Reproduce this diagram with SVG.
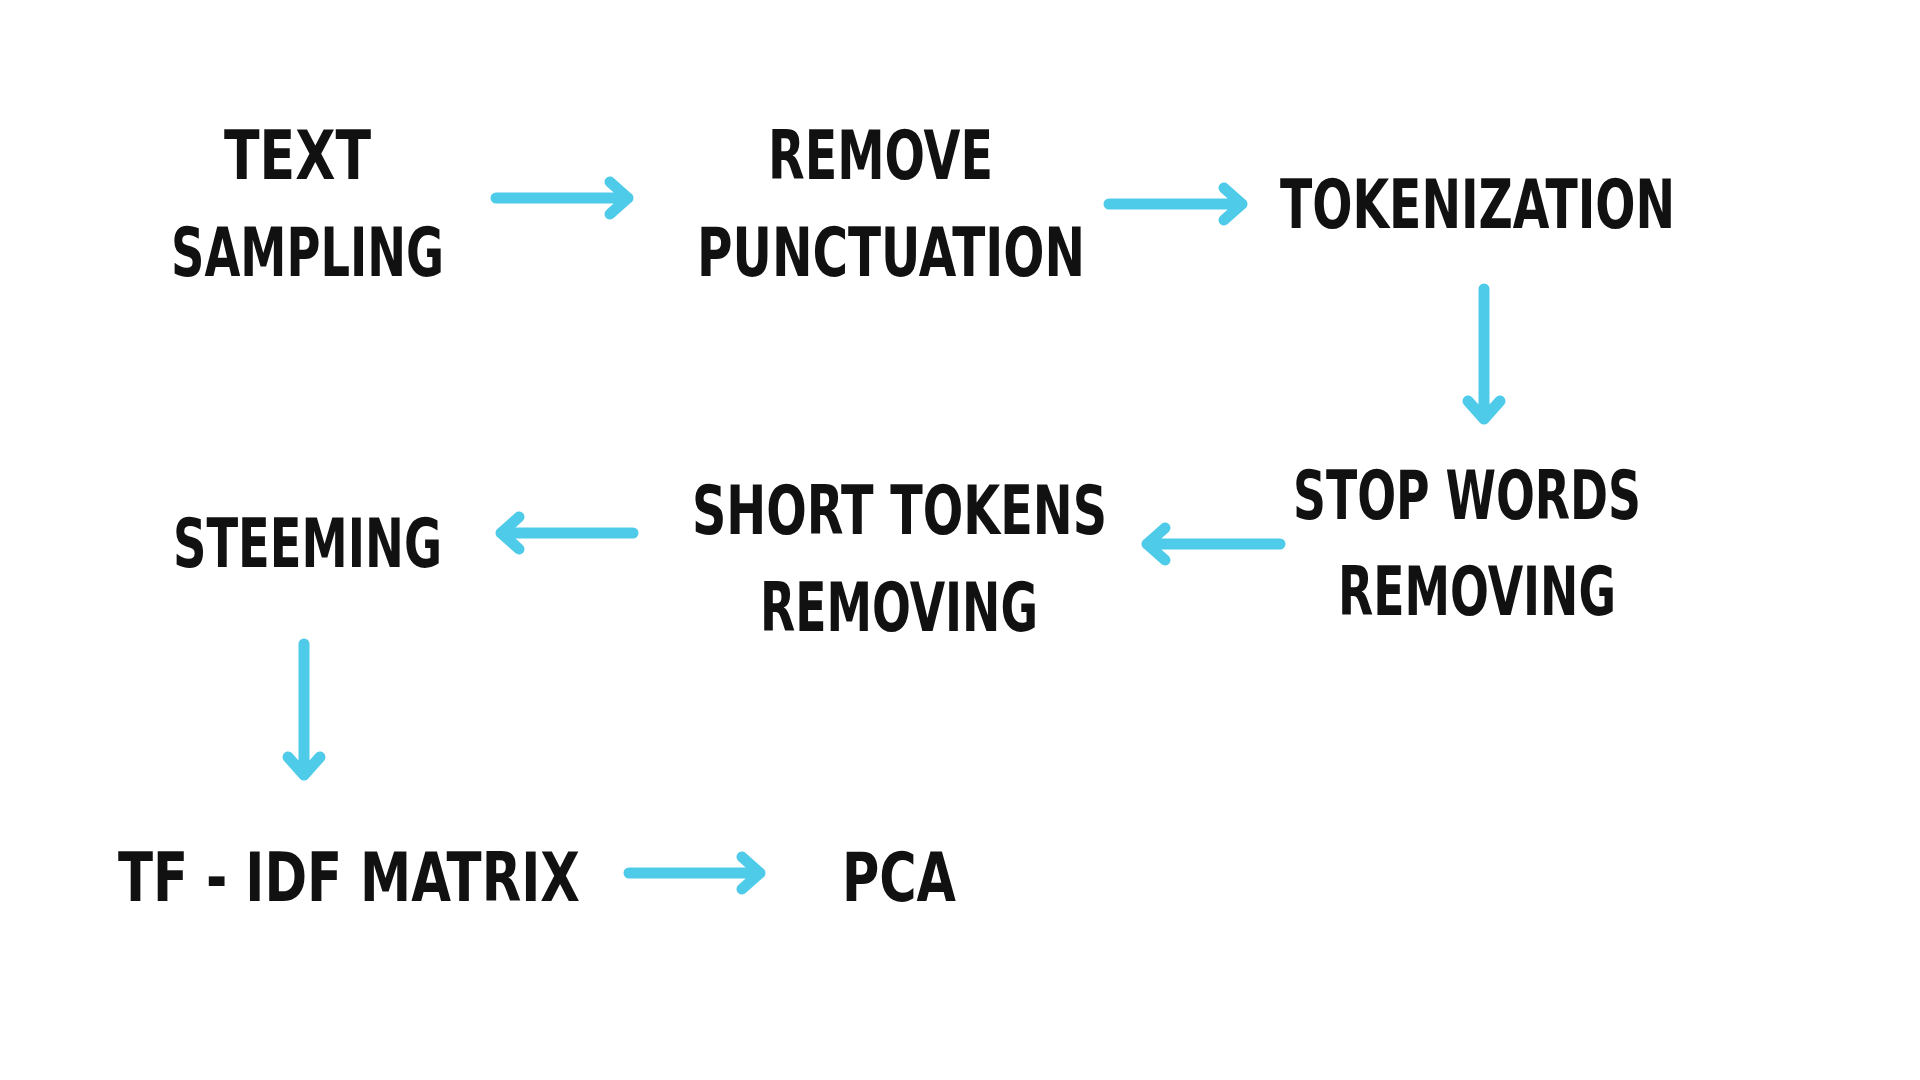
<svg xmlns="http://www.w3.org/2000/svg" width="1920" height="1080" viewBox="0 0 1920 1080">
<defs>
<style>
.t{font-family:"DejaVu Sans Condensed","DejaVu Sans","Liberation Sans",sans-serif;font-stretch:condensed;font-weight:bold;font-size:68px;fill:#111;}
.a{fill:none;stroke:#4dcbe9;stroke-width:11;stroke-linecap:round;stroke-linejoin:round;}
</style>
</defs>
<rect width="1920" height="1080" fill="#ffffff"/>
<g id="connectors">
<path class="a" d="M496 198 H628 M610 182 L628 198 L610 214"/>
<path class="a" d="M1109 204 H1242 M1224 188 L1242 204 L1224 220"/>
<path class="a" d="M1484 289 V419 M1468 401 L1484 419 L1500 401"/>
<path class="a" d="M1280 544 H1147 M1165 528 L1147 544 L1165 560"/>
<path class="a" d="M633 533 H501 M519 517 L501 533 L519 549"/>
<path class="a" d="M304 644 V775 M288 757 L304 775 L320 757"/>
<path class="a" d="M629 873 H760 M742 857 L760 873 L742 889"/>
</g>
<g id="text-sampling">
<text class="t" x="224" y="179" textLength="147" lengthAdjust="spacingAndGlyphs">TEXT</text>
<text class="t" x="171" y="276" textLength="273" lengthAdjust="spacingAndGlyphs">SAMPLING</text>
</g>
<g id="remove-punctuation">
<text class="t" x="768" y="179" textLength="225" lengthAdjust="spacingAndGlyphs">REMOVE</text>
<text class="t" x="697" y="276" textLength="388" lengthAdjust="spacingAndGlyphs">PUNCTUATION</text>
</g>
<g id="tokenization">
<text class="t" x="1280" y="228" textLength="395" lengthAdjust="spacingAndGlyphs">TOKENIZATION</text>
</g>
<g id="stop-words-removing">
<text class="t" x="1293" y="519" textLength="348" lengthAdjust="spacingAndGlyphs">STOP WORDS</text>
<text class="t" x="1338" y="615" textLength="278" lengthAdjust="spacingAndGlyphs">REMOVING</text>
</g>
<g id="short-tokens-removing">
<text class="t" x="692" y="534" textLength="415" lengthAdjust="spacingAndGlyphs">SHORT TOKENS</text>
<text class="t" x="760" y="631" textLength="278" lengthAdjust="spacingAndGlyphs">REMOVING</text>
</g>
<g id="steeming">
<text class="t" x="173" y="567" textLength="269" lengthAdjust="spacingAndGlyphs">STEEMING</text>
</g>
<g id="tf-idf-matrix">
<text class="t" x="118" y="901" textLength="462" lengthAdjust="spacingAndGlyphs">TF - IDF MATRIX</text>
</g>
<g id="pca">
<text class="t" x="842" y="901" textLength="114" lengthAdjust="spacingAndGlyphs">PCA</text>
</g>
</svg>
